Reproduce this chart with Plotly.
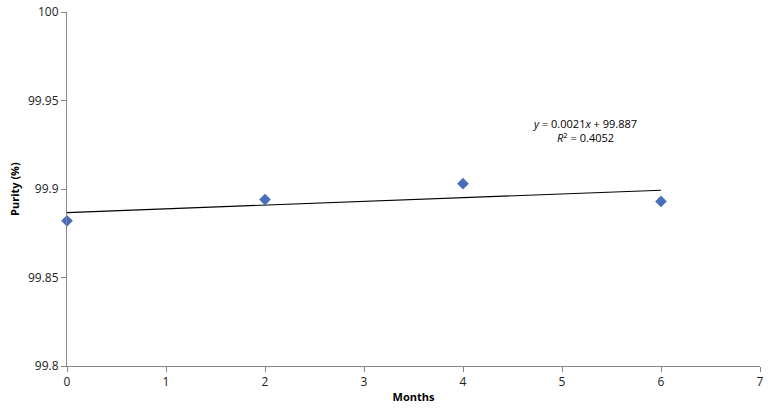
import numpy as np
import plotly.graph_objects as go

months = [0, 2, 4, 6]
purity = [99.882, 99.894, 99.903, 99.893]

x_ticks = [0, 1, 2, 3, 4, 5, 6, 7]
y_ticks = [99.8, 99.85, 99.9, 99.95, 100]
y_tick_text = ["99.8", "99.85", "99.9", "99.95", "100"]

# linear trendline (like Excel)
slope, intercept = np.polyfit(months, purity, 1)
trend_x = [min(months), max(months)]
trend_y = [slope * v + intercept for v in trend_x]

fig = go.Figure()

fig.add_trace(go.Scatter(
    x=trend_x, y=trend_y, mode="lines",
    line=dict(color="#000000", width=1.2),
    showlegend=False, hoverinfo="skip"
))

fig.add_trace(go.Scatter(
    x=months, y=purity, mode="markers",
    marker=dict(symbol="diamond", size=9, color="#4A6EBA"),
    showlegend=False, cliponaxis=False
))

fig.add_annotation(
    x=5.23, y=99.9328, xref="x", yref="y",
    text="<i>y</i> = 0.0021<i>x</i> + 99.887<br><i>R</i><sup>2</sup> = 0.4052",
    showarrow=False, align="center",
    font=dict(family="Open Sans, Arial", size=11, color="#000000")
)

# y-axis title as annotation so it can sit at the far left
fig.add_annotation(
    x=-0.0765, y=0.5, xref="paper", yref="paper",
    text="<b>Purity (%)</b>", textangle=-90,
    showarrow=False, xanchor="center", yanchor="middle",
    font=dict(family="Open Sans, Arial", size=11, color="#000000")
)

axis_common = dict(
    showgrid=False, zeroline=False, automargin=False,
    showline=True, linecolor="#868686", linewidth=1,
    ticks="outside", tickcolor="#868686", ticklen=5,
    tickfont=dict(family="Open Sans, Arial", size=12, color="#222222"),
)

fig.update_layout(
    width=771, height=412,
    margin=dict(l=67, r=11, t=12, b=46),
    plot_bgcolor="#ffffff",
    paper_bgcolor="#ffffff",
    xaxis=dict(
        range=[0, 7], tickvals=x_ticks,
        title=dict(text="<b>Months</b>", font=dict(family="Open Sans, Arial", size=11, color="#000000"), standoff=3),
        **axis_common
    ),
    yaxis=dict(
        range=[99.8, 100], tickvals=y_ticks, ticktext=y_tick_text,
        **axis_common
    ),
)

# drop the default page margin so the figure fills the window
fig.write_html("out.html", config={"displayModeBar": False},
               post_script="document.body.style.margin='0';")
